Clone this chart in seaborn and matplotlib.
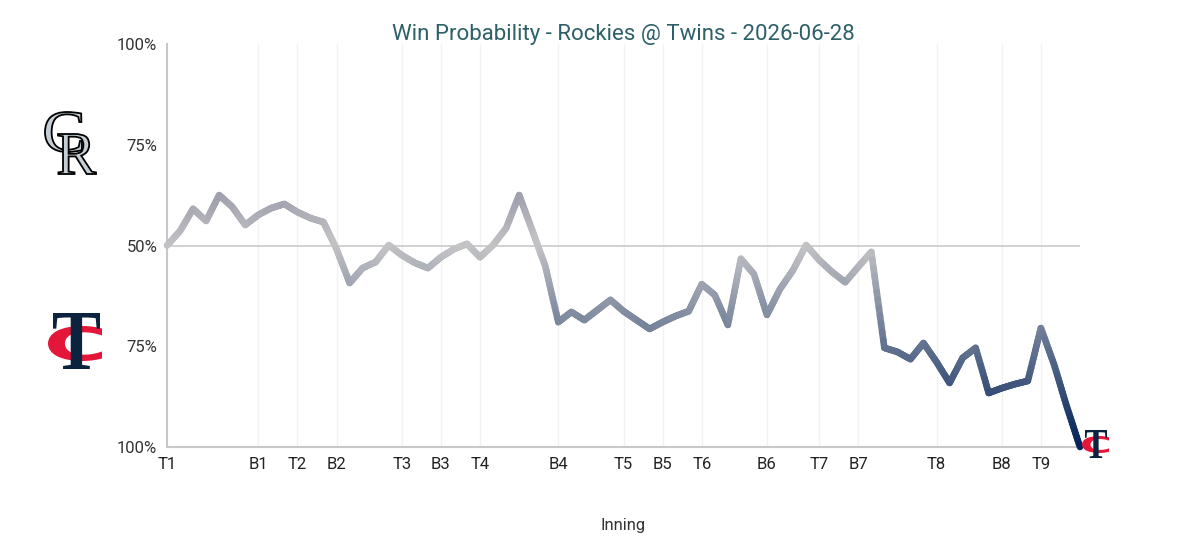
import numpy as np
import pandas as pd
import matplotlib
matplotlib.use("Agg")
import matplotlib.pyplot as plt
import seaborn as sns
from matplotlib.collections import LineCollection
from matplotlib.colors import LinearSegmentedColormap
from matplotlib.textpath import TextPath
from matplotlib.patches import PathPatch
from matplotlib.font_manager import FontProperties
from matplotlib.transforms import Affine2D

# Rockies win probability (%) after each play
play = list(range(71))
rockies_wp = [50.0, 53.6, 59.1, 56.1, 62.5, 59.6, 55.1, 57.6, 59.3, 60.3, 58.3, 56.8, 55.8,
              49.1, 40.7, 44.4, 45.9, 50.1, 47.6, 45.7, 44.4, 47.1, 49.1, 50.4, 47.1, 50.1,
              54.3, 62.5, 53.8, 44.9,
              31.0, 33.5, 31.5, 34.0, 36.5, 33.7, 31.5, 29.3, 31.0, 32.5, 33.7, 40.4, 37.7,
              30.3, 46.7, 42.9, 32.8, 39.2, 43.9, 50.1, 46.4, 43.4, 40.9, 44.7, 48.4,
              24.6, 23.6, 21.8, 25.8, 21.1, 15.9, 22.1, 24.6, 13.4, 14.6, 15.6, 16.4,
              29.5, 20.6, 9.9, 0.0]

inning_pos = [0, 7, 10, 13, 18, 21, 24, 30, 35, 38, 41, 46, 50, 53, 59, 64, 67]
inning_lbl = ["T1", "B1", "T2", "B2", "T3", "B3", "T4", "B4", "T5", "B5", "T6", "B6",
              "T7", "B7", "T8", "B8", "T9"]
y_ticks = [0, 25, 50, 75, 100]
y_lbl = ["100%", "75%", "50%", "75%", "100%"]

df = pd.DataFrame({"play": play, "wp": rockies_wp})

W, H, DPI = 1188, 546, 100
sns.set_theme(style="white")
plt.rcParams["font.family"] = ["Roboto", "DejaVu Sans"]

fig = plt.figure(figsize=(W / DPI, H / DPI), dpi=DPI)
ax = fig.add_axes([167 / W, 1 - 447 / H, 913 / W, 403 / H])

ln = sns.lineplot(data=df, x="play", y="wp", ax=ax, lw=4.8, color="#b0b0b8")
line = ln.get_lines()[0]
xd, yd = line.get_xdata(), line.get_ydata()
line.remove()

# shade the stroke by value: twins navy -> grey at 50% -> rockies
cmap = LinearSegmentedColormap.from_list("wp", [(0, "#03235a"), (0.5, "#c4c4c6"), (1, "#333366")])
segs, cols = [], []
for k in range(len(xd) - 1):
    xs = np.linspace(xd[k], xd[k + 1], 13)
    ys = np.linspace(yd[k], yd[k + 1], 13)
    for j in range(12):
        segs.append([(xs[j], ys[j]), (xs[j + 1], ys[j + 1])])
        cols.append(cmap((ys[j] + ys[j + 1]) / 200))
lc = LineCollection(segs, colors=cols, linewidths=4.8, capstyle="round", zorder=4, clip_on=False)
ax.add_collection(lc)

ax.axhline(50, color="#c8c8c8", lw=1.2, zorder=2)
for p in inning_pos[1:]:
    ax.axvline(p, color="#f2f2f2", lw=1, zorder=1)

ax.set_xlim(0, 70)
ax.set_ylim(0, 100)
ax.set_xticks(inning_pos)
ax.set_xticklabels(inning_lbl)
ax.set_yticks(y_ticks)
ax.set_yticklabels(y_lbl)
ax.tick_params(axis="both", length=5, width=1, color="#c8c8c8", labelsize=12, labelcolor="#333333", pad=2)
ax.tick_params(axis="x", labelcolor="#222222")
for s in ["top", "right"]:
    ax.spines[s].set_visible(False)
for s in ["left", "bottom"]:
    ax.spines[s].set_color("#c8c8c8")
    ax.spines[s].set_linewidth(1.5)

ax.set_xlabel("Inning", fontsize=12, color="#333333", labelpad=33)
ax.set_ylabel("")
ax.set_title("Win Probability - Rockies @ Twins - 2026-06-28", fontsize=16, color="#2d6068", pad=3)


def glyph(s, x0, y0, w, h, fc, ec="none", lw=0, family="DejaVu Sans", weight="bold"):
    tp = TextPath((0, 0), s, size=100, prop=FontProperties(family=family, weight=weight))
    bb = tp.get_extents()
    tr = (Affine2D().translate(-bb.x0, -bb.y0).scale(w / bb.width, h / bb.height)
          .translate(x0, H - y0 - h).scale(1 / DPI) + fig.dpi_scale_trans)
    fig.add_artist(PathPatch(tp, transform=tr, fc=fc, ec=ec, lw=lw, zorder=6))


# team marks
glyph("C", 45, 112, 37, 40, "#c4ced4", "black", 1.3, "Liberation Serif", "normal")
glyph("R", 58, 134, 38, 40, "#c4ced4", "black", 1.3, "Liberation Serif", "normal")
glyph("C", 48, 326, 54, 35, "#e4173a")
glyph("T", 53, 313, 47, 56, "#0c2340", family="Liberation Serif")
glyph("C", 1082, 436, 27, 17, "#e4173a")
glyph("T", 1085, 430, 22, 28, "#0c2340", family="Liberation Serif")

fig.savefig("out.png", dpi=DPI)
